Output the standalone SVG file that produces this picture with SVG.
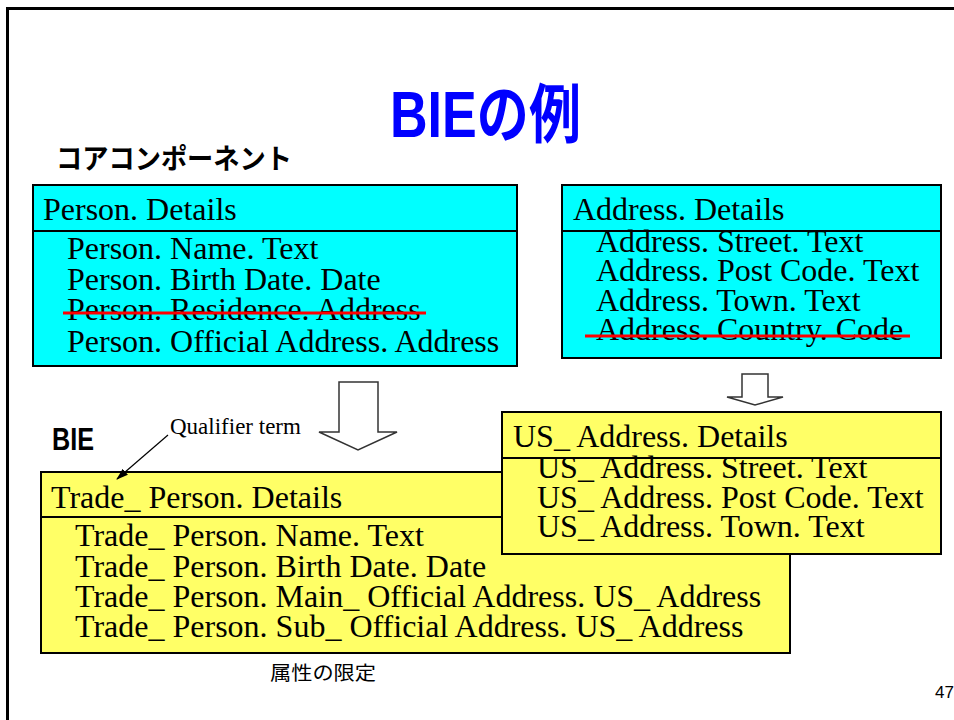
<svg xmlns="http://www.w3.org/2000/svg" width="954" height="720" viewBox="0 0 954 720">
<style>
.box{stroke:#000;stroke-width:2}
.cyan{fill:#00FFFF}
.yel{fill:#FFFF66}
.div{stroke:#000;stroke-width:2}
.t{font-family:"Liberation Serif","Times New Roman",serif;font-size:32px;fill:#000}
.strike{stroke:#FF0000;stroke-width:3}
.hollow{fill:#fff;stroke:#333;stroke-width:1.5}
.jp{font-family:"Noto Sans CJK JP","Liberation Sans",sans-serif;font-weight:bold;fill:#000}
</style>
<defs>
<marker id="ah" markerWidth="12" markerHeight="10" refX="11" refY="5" orient="auto" markerUnits="userSpaceOnUse">
<path d="M0,1 L12,5 L0,9 Z" fill="#000"/>
</marker>
</defs>
<rect x="7.5" y="8.5" width="1000" height="800" fill="#fff" stroke="#000" stroke-width="3"/>
<g id="title">
<text x="390" y="137" font-family="'Liberation Sans','Noto Sans CJK JP',sans-serif" font-weight="bold" font-size="64" fill="#0000FF" textLength="191" lengthAdjust="spacingAndGlyphs">BIEの例</text>
</g>
<g id="label-core">
<text class="jp" x="56" y="169" font-size="28" textLength="236" lengthAdjust="spacingAndGlyphs">コアコンポーネント</text>
</g>
<g id="label-bie">
<text x="52" y="450" font-family="'Liberation Sans',sans-serif" font-weight="bold" font-size="32" textLength="42" lengthAdjust="spacingAndGlyphs">BIE</text>
</g>
<g id="person">
<rect class="box cyan" x="33" y="185" width="484" height="181"/>
<line class="div" x1="33" y1="231" x2="517" y2="231"/>
<text class="t" x="43" y="220">Person. Details</text>
<text class="t" x="67" y="259">Person. Name. Text</text>
<text class="t" x="67" y="290">Person. Birth Date. Date</text>
<text class="t" x="67" y="320">Person. Residence. Address</text>
<text class="t" x="67" y="352">Person. Official Address. Address</text>
<line class="strike" x1="63" y1="313" x2="426" y2="313"/>
</g>
<g id="address">
<rect class="box cyan" x="562" y="185" width="379" height="173"/>
<line class="div" x1="562" y1="231" x2="941" y2="231"/>
<text class="t" x="573" y="220">Address. Details</text>
<text class="t" x="596" y="252">Address. Street. Text</text>
<text class="t" x="596" y="281">Address. Post Code. Text</text>
<text class="t" x="596" y="311">Address. Town. Text</text>
<text class="t" x="596" y="340">Address. Country. Code</text>
<line class="strike" x1="585" y1="336" x2="910" y2="336"/>
</g>
<g id="qualifier">
<text x="170" y="434" font-family="'Liberation Serif',serif" font-size="23" fill="#000">Qualifier term</text>
</g>
<g id="trade-person">
<rect class="box yel" x="41" y="472" width="749" height="181"/>
<line class="div" x1="41" y1="517" x2="790" y2="517"/>
<text class="t" x="51" y="508">Trade_ Person. Details</text>
<text class="t" x="75" y="546">Trade_ Person. Name. Text</text>
<text class="t" x="75" y="577">Trade_ Person. Birth Date. Date</text>
<text class="t" x="75" y="607">Trade_ Person. Main_ Official Address. US_ Address</text>
<text class="t" x="75" y="637">Trade_ Person. Sub_ Official Address. US_ Address</text>
</g>
<g id="us-address">
<rect class="box yel" x="502" y="412" width="439" height="142"/>
<line class="div" x1="502" y1="458" x2="941" y2="458"/>
<text class="t" x="513" y="447">US_ Address. Details</text>
<text class="t" x="537" y="478">US_ Address. Street. Text</text>
<text class="t" x="537" y="508">US_ Address. Post Code. Text</text>
<text class="t" x="537" y="537">US_ Address. Town. Text</text>
</g>
<g id="connectors">
<polygon class="hollow" points="339,382 378,382 378,432 397,432 358,450 319,432 339,432"/>
<polygon class="hollow" points="742,374 768,374 768,397 783,397 755,405 727,397 742,397"/>
<line x1="168" y1="435" x2="117" y2="479" stroke="#000" stroke-width="1.2" marker-end="url(#ah)"/>
</g>
<g id="note">
<text x="270" y="680" font-family="'Noto Sans CJK JP',sans-serif" font-size="19" fill="#000" textLength="106" lengthAdjust="spacingAndGlyphs">属性の限定</text>
</g>
<g id="page">
<text x="935" y="698" font-family="'Liberation Sans',sans-serif" font-size="17" fill="#000">47</text>
</g>
</svg>
